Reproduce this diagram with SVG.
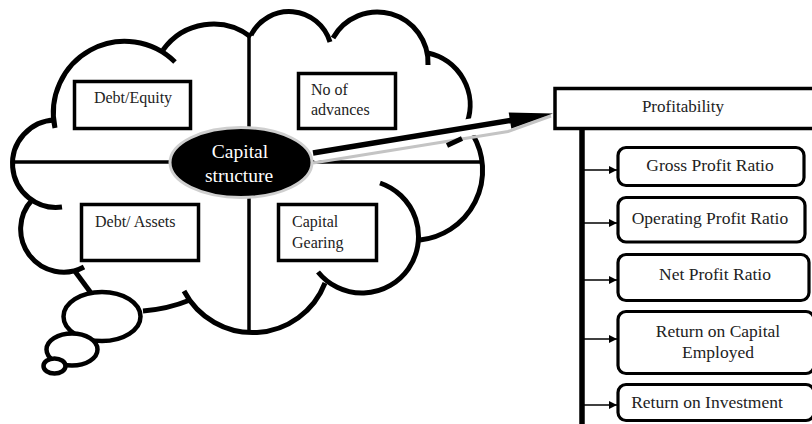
<svg xmlns="http://www.w3.org/2000/svg" width="812" height="424" viewBox="0 0 812 424">
<defs>
<style>
.cl{fill:none;stroke:#000;stroke-width:5;stroke-linecap:butt}
.bub{fill:#fff;stroke:#000;stroke-width:4.5}
.ln{stroke:#000;stroke-width:3.5;fill:none}
.box{fill:#fff;stroke:#000;stroke-width:3.5}
.rbox{fill:#fff;stroke:#000;stroke-width:3.2}
.t{font-family:"Liberation Serif","Times New Roman",serif;fill:#222}
.s16{font-size:16px}
.s17{font-size:17.5px;text-anchor:middle}
.sub{stroke:#000;stroke-width:1.5;fill:none}
</style>
<marker id="ah" markerUnits="userSpaceOnUse" markerWidth="10" markerHeight="10" refX="8" refY="4" orient="auto">
<path d="M0,0 L8,4 L0,8 Z" fill="#000"/>
</marker>
</defs>
<rect width="812" height="424" fill="#fff"/>

<g id="cloud">
<path class="cl" d="M55 128 A71.4 71.4 0 0 1 175 62"/>
<path class="cl" d="M163 50 A61.5 61.5 0 0 1 251 37"/>
<path class="cl" d="M251 35 A42.7 42.7 0 0 1 330 42"/>
<path class="cl" d="M333 38 A50.75 50.75 0 0 1 428 65"/>
<path class="cl" d="M428 53 A53.2 53.2 0 0 1 467 123"/>
<path class="cl" d="M473 135 A70 70 0 0 1 420 240"/>
<path class="cl" d="M380 183 A56.5 56.5 0 1 1 318 272"/>
<path class="cl" d="M325 283 A77.5 77.5 0 0 1 184 291"/>
<path class="cl" d="M143 311 Q168 309 190 300"/>
<path class="cl" d="M74 270 L91 293"/>
<path class="cl" d="M32 200 A43 43 0 0 0 84 267"/>
<path class="cl" d="M55 120 A43.7 43.7 0 1 0 62 207"/>
<ellipse class="bub" cx="102" cy="316.5" rx="38.5" ry="24.5"/>
<ellipse class="bub" cx="72" cy="349.5" rx="25.5" ry="16"/>
<ellipse class="bub" cx="54.5" cy="366" rx="11" ry="7.5"/>
<line class="ln" x1="13" y1="162" x2="481" y2="162"/>
<line class="ln" x1="249" y1="36" x2="249" y2="331"/>
</g>

<g id="debt-equity">
<rect class="box" x="74.5" y="81.5" width="116" height="47"/>
<text class="t s16" x="133" y="103" text-anchor="middle">Debt/Equity</text>
</g>
<g id="no-of-advances">
<rect class="box" x="298.5" y="73.5" width="97" height="55"/>
<text class="t s16" x="311" y="95">No of</text>
<text class="t s16" x="311" y="115">advances</text>
</g>
<g id="debt-assets">
<rect class="box" x="81.5" y="204.5" width="117" height="56"/>
<text class="t s16" x="95" y="227">Debt/ Assets</text>
</g>
<g id="capital-gearing">
<rect class="box" x="278.5" y="204.5" width="98" height="56"/>
<text class="t s16" x="292" y="227">Capital</text>
<text class="t s16" x="292" y="248">Gearing</text>
</g>

<g id="connectors">
<path d="M313 153 L512 120.2" stroke="#fff" stroke-width="17" fill="none"/>
<path d="M313 163 L508 131.5 L551 116" stroke="#c4c4c4" stroke-width="3" fill="none"/>
<path d="M313 153 L512 120.2" stroke="#000" stroke-width="5.5" fill="none"/>
<path d="M553 113.5 L508.7 112.6 L511.3 128.4 Z" fill="#000"/>
<path d="M447 145.5 L462 138.5" stroke="#000" stroke-width="5" fill="none"/>
<line x1="582" y1="130" x2="582" y2="424" stroke="#000" stroke-width="5.5"/>
<line class="sub" x1="584" y1="170" x2="617" y2="170" marker-end="url(#ah)"/>
<line class="sub" x1="584" y1="223" x2="617" y2="223" marker-end="url(#ah)"/>
<line class="sub" x1="584" y1="280" x2="617" y2="280" marker-end="url(#ah)"/>
<line class="sub" x1="584" y1="339" x2="617" y2="339" marker-end="url(#ah)"/>
<line class="sub" x1="584" y1="405" x2="617" y2="405" marker-end="url(#ah)"/>
</g>

<g id="capital-structure">
<ellipse cx="241" cy="162.5" rx="71" ry="35" fill="#000" stroke="#cfcfcf" stroke-width="3"/>
<text class="t" x="240" y="158" font-size="19.5" text-anchor="middle" fill="#fff" style="fill:#fff">Capital</text>
<text class="t" x="239" y="182" font-size="19.5" text-anchor="middle" style="fill:#fff">structure</text>
</g>

<g id="profitability">
<rect class="box" x="555" y="88.5" width="262" height="40"/>
<text class="t" x="683" y="112" font-size="17" text-anchor="middle">Profitability</text>
</g>
<g id="gross-profit-ratio">
<rect class="rbox" x="618" y="147.5" width="186" height="38" rx="8"/>
<text class="t s17" x="710" y="171">Gross Profit Ratio</text>
</g>
<g id="operating-profit-ratio">
<rect class="rbox" x="618" y="197.5" width="187" height="44.5" rx="8"/>
<text class="t s17" x="710" y="223.5">Operating Profit Ratio</text>
</g>
<g id="net-profit-ratio">
<rect class="rbox" x="618" y="254.5" width="191" height="46" rx="8"/>
<text class="t s17" x="715" y="280">Net Profit Ratio</text>
</g>
<g id="return-on-capital-employed">
<rect class="rbox" x="618" y="311.5" width="196" height="62" rx="8"/>
<text class="t s17" x="718" y="337">Return on Capital</text>
<text class="t s17" x="718" y="358">Employed</text>
</g>
<g id="return-on-investment">
<rect class="rbox" x="618" y="384.5" width="196" height="36" rx="8"/>
<text class="t s17" x="707" y="408">Return on Investment</text>
</g>
</svg>
